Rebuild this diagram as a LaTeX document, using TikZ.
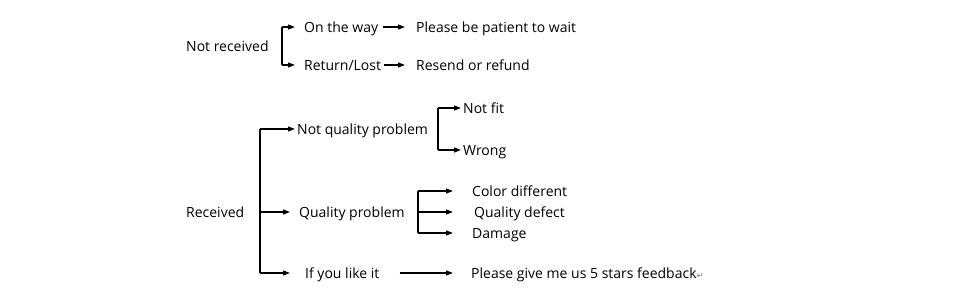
\documentclass[tikz,border=0pt]{standalone}
\usepackage{fontspec}
\setmainfont{Open Sans}
\newfontfamily\symfont{DejaVu Sans}
\usetikzlibrary{arrows.meta, positioning}

\begin{document}
\begin{tikzpicture}[
  x=1pt, y=-1pt,
  txt/.style={anchor=west, inner sep=0pt, text height=10pt, text depth=0pt,
              font=\fontsize{14}{16}\selectfont},
  arr/.style={-{Triangle[length=7pt,width=5pt]}, line width=1.2pt},
  spine/.style={line width=1.2pt}
]
\useasboundingbox (0,0) rectangle (960,300);

% not received
\node[txt] (notrec) at (186,46) {Not received};
\node[txt] (way)    at (304,27) {On the way};
\node[txt] (lost)   at (304,65) {Return/Lost};
\node[txt] (wait)   at (416,27) {Please be patient to wait};
\node[txt] (refund) at (416,65) {Resend or refund};

\coordinate (s1a) at (282,27);
\coordinate (s1b) at (282,65);
\draw[spine] (s1a) -- (s1b);
\draw[arr, shorten >=9pt] (s1a) -- (way);
\draw[arr, shorten >=9pt] (s1b) -- (lost);
\draw[arr, shorten <=5pt, shorten >=11pt] (way) -- (wait);
\draw[arr, shorten <=3pt, shorten >=11pt] (lost) -- (refund);

% received
\node[txt] (rec)     at (186,212) {Received};
\node[txt] (notqual) at (297,129) {Not quality problem};
\node[txt] (qual)    at (299,212) {Quality problem};
\node[txt] (like)    at (305,273) {If you like it};

\coordinate (s2a) at (260,129);
\coordinate (s2m) at (260,212);
\coordinate (s2b) at (260,273);
\draw[spine] (s2a) -- (s2b);
\draw[arr, shorten >=2pt] (s2a) -- (notqual);
\draw[arr, shorten >=9pt] (s2m) -- (qual);
\draw[arr, shorten >=15pt] (s2b) -- (like);

% not quality problem
\node[txt] (notfit) at (463,108) {Not fit};
\node[txt] (wrong)  at (463,150) {Wrong};

\coordinate (s3a) at (438,108);
\coordinate (s3b) at (438,150);
\draw[spine] (s3a) -- (s3b);
\draw[arr, shorten >=2pt] (s3a) -- (notfit);
\draw[arr, shorten >=2pt] (s3b) -- (wrong);

% quality problem
\node[txt] (color)  at (472,191) {Color different};
\node[txt] (defect) at (474,212) {Quality defect};
\node[txt] (damage) at (472,233) {Damage};

\coordinate (s4a) at (418,191);
\coordinate (s4m) at (418,212);
\coordinate (s4b) at (418,233);
\draw[spine] (s4a) -- (s4b);
\draw[arr, shorten >=19pt] (s4a) -- (color);
\draw[arr, shorten >=21pt] (s4m) -- (defect);
\draw[arr, shorten >=19pt] (s4b) -- (damage);

% like it
\node[txt] (stars) at (471,273) {Please give me us 5 stars feedback{\symfont\fontsize{8}{9}\selectfont\color{gray}↵}};
\draw[arr, shorten <=20pt, shorten >=18pt] (like) -- (stars);

\end{tikzpicture}
\end{document}
